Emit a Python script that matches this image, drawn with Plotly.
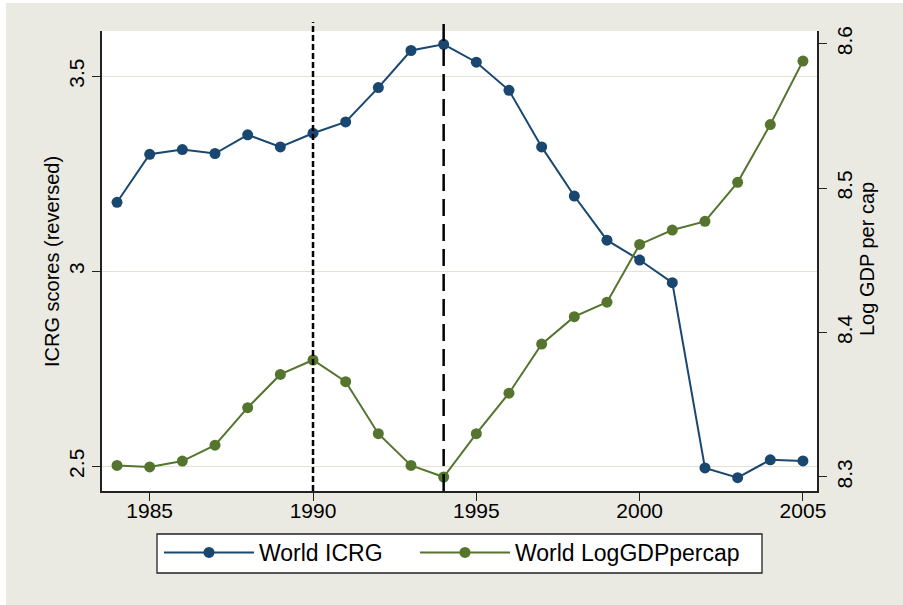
import plotly.graph_objects as go

years = list(range(1984, 2006))
icrg = [3.177, 3.300, 3.312, 3.302, 3.350, 3.319, 3.354, 3.383, 3.471, 3.566, 3.582,
        3.536, 3.464, 3.319, 3.193, 3.080, 3.029, 2.971, 2.496, 2.471, 2.517, 2.514]
loggdp = [8.308, 8.307, 8.311, 8.322, 8.348, 8.371, 8.381, 8.366, 8.330, 8.308, 8.300,
          8.330, 8.358, 8.392, 8.411, 8.421, 8.461, 8.471, 8.477, 8.504, 8.544, 8.588]
vlines = [1990, 1994]
vline_dash = ["6px,3px", "17px,8px"]
x_ticks = [1985, 1990, 1995, 2000, 2005]
y_ticks = [2.5, 3, 3.5]
y2_ticks = [8.3, 8.4, 8.5, 8.6]
y_title = "ICRG scores (reversed)"
y2_title = "Log GDP per cap"

NAVY = "#1a476f"
GREEN = "#55752f"
BG = "#eaeae3"
GRID = "#e2e2d4"
AX = "#222222"
FONT = "Liberation Sans, Arial, sans-serif"

W, H = 903, 605
L, R, T, B = 102, 86, 31, 114
PW, PH = W - L - R, H - T - B
PB = H - B  # pixel y of plot bottom


def px_x(px):
    return (px - L) / PW


def px_y(py):
    return (PB - py) / PH


fig = go.Figure()
fig.add_trace(go.Scatter(x=years, y=icrg, name="World ICRG", mode="lines+markers",
                         line=dict(color=NAVY, width=2), marker=dict(color=NAVY, size=11),
                         yaxis="y", legend="legend"))
fig.add_trace(go.Scatter(x=years, y=loggdp, name="World LogGDPpercap", mode="lines+markers",
                         line=dict(color=GREEN, width=2), marker=dict(color=GREEN, size=11),
                         yaxis="y2", legend="legend2"))

for xv, d in zip(vlines, vline_dash):
    fig.add_shape(type="line", xref="x", yref="paper", x0=xv, x1=xv, y0=0, y1=1 + 9 / PH,
                  line=dict(color="black", width=2.5, dash=d), layer="above")

# thin white frame at top/left edge of the image
fig.add_shape(type="rect", xref="paper", yref="paper", x0=-0.3, x1=1.3, y0=px_y(3), y1=1.3,
              fillcolor="white", line=dict(width=0), layer="below")
fig.add_shape(type="rect", xref="paper", yref="paper", x0=-0.3, x1=px_x(6), y0=-0.4, y1=1.3,
              fillcolor="white", line=dict(width=0), layer="below")

# legend frame
fig.add_shape(type="rect", xref="paper", yref="paper", x0=px_x(157), x1=px_x(762),
              y0=px_y(573), y1=px_y(534), fillcolor="white",
              line=dict(color=AX, width=1.3), layer="below")

# axis titles
fig.add_annotation(text=y_title, xref="paper", yref="paper", x=px_x(52), y=0.5,
                   textangle=-90, showarrow=False, font=dict(size=20, family=FONT),
                   xanchor="center", yanchor="middle")
fig.add_annotation(text=y2_title, xref="paper", yref="paper", x=px_x(867), y=px_y(259),
                   textangle=-90, showarrow=False, font=dict(size=20, family=FONT),
                   xanchor="center", yanchor="middle")

leg_common = dict(orientation="h", yanchor="top", xanchor="left", y=px_y(531),
                  bgcolor="rgba(0,0,0,0)", borderwidth=0,
                  font=dict(size=23, family=FONT), itemwidth=90)

fig.update_layout(
    width=W, height=H,
    margin=dict(l=L, r=R, t=T, b=B, autoexpand=False),
    paper_bgcolor=BG, plot_bgcolor="white",
    font=dict(family=FONT, color="black", size=21),
    showlegend=True,
    legend=dict(x=px_x(159), **leg_common),
    legend2=dict(x=px_x(415), **leg_common),
    xaxis=dict(range=[1983.54, 2005.43], tickvals=x_ticks, ticks="outside", ticklen=8,
               tickwidth=1.2, tickcolor=AX, showgrid=False, zeroline=False, showline=True,
               linecolor=AX, linewidth=1.5, tickfont=dict(size=21), ticklabelstandoff=-8,
               automargin=False),
    yaxis=dict(range=[2.437, 3.616], tickvals=y_ticks, ticktext=["2.5", "3", "3.5"],
               ticks="outside", ticklen=8, tickwidth=1.2, tickcolor=AX, tickangle=-90,
               showgrid=True, gridcolor=GRID, gridwidth=1.2, zeroline=False, showline=True,
               linecolor=AX, linewidth=1.5, tickfont=dict(size=21), automargin=False,
               ticklabelstandoff=0),
    yaxis2=dict(range=[8.2903, 8.6088], tickvals=y2_ticks, overlaying="y", side="right",
                ticks="outside", ticklen=8, tickwidth=1.2, tickcolor=AX, tickangle=-90,
                showgrid=False, zeroline=False, showline=True, linecolor=AX, linewidth=1.5,
                tickfont=dict(size=21), automargin=False),
)

fig.write_html("out.html", config={"displayModeBar": False},
               post_script="document.body.style.margin='0';")
